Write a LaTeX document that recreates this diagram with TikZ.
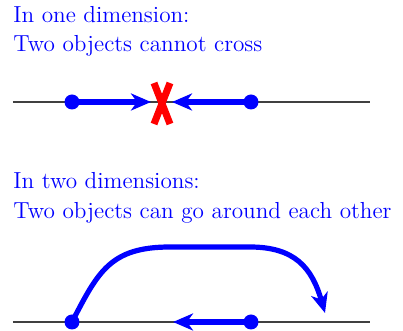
\documentclass[tikz,border=0pt]{standalone}
\usetikzlibrary{arrows.meta}
\begin{document}
\begin{tikzpicture}[x=0.5pt,y=-0.5pt,
  lbl/.style={anchor=base west,inner sep=0pt,text=blue,font=\fontsize{11.6}{13}\selectfont},
  axis/.style={draw=black!75,line width=0.7pt},
  dot/.style={circle,fill=blue,inner sep=0pt,minimum size=7.5pt},
  move/.style={draw=blue,line width=2.6pt,-{Stealth[length=10pt,width=8.5pt,inset=3pt]}},
  cross/.style={draw=red,line width=3.5pt}]
\useasboundingbox (0,0) rectangle (403,331);
% 1D
\node[lbl] (t1) at (13,23) {In one dimension:};
\node[lbl] (t2) at (13,52) {Two objects cannot cross};
\coordinate (l1a) at (13,102);
\coordinate (l1b) at (370,102);
\draw[axis] (l1a) -- (l1b);
\node[dot] (a1) at (72,102) {};
\node[dot] (b1) at (251,102) {};
\coordinate (tipa) at (151,102);
\coordinate (tipb) at (172,102);
\draw[move] (a1.center) -- (tipa);
\draw[move] (b1.center) -- (tipb);
\coordinate (x1) at (154,83);
\coordinate (x2) at (170,124);
\coordinate (x3) at (170,83);
\coordinate (x4) at (154,124);
\draw[cross] (x1) -- (x2);
\draw[cross] (x3) -- (x4);
% 2D
\node[lbl] (t3) at (13,189) {In two dimensions:};
\node[lbl] (t4) at (13,219) {Two objects can go around each other};
\coordinate (l2a) at (13,322);
\coordinate (l2b) at (370,322);
\draw[axis] (l2a) -- (l2b);
\node[dot] (a2) at (72,322) {};
\node[dot] (b2) at (251,322) {};
\coordinate (tipc) at (173,322);
\coordinate (tipd) at (325,313);
\draw[move] (b2.center) -- (tipc);
\draw[move] (a2.center) .. controls (98,272) and (110,247) .. (170,247) -- (250,247) .. controls (295,247) and (312,268) .. (tipd);
\end{tikzpicture}
\end{document}
